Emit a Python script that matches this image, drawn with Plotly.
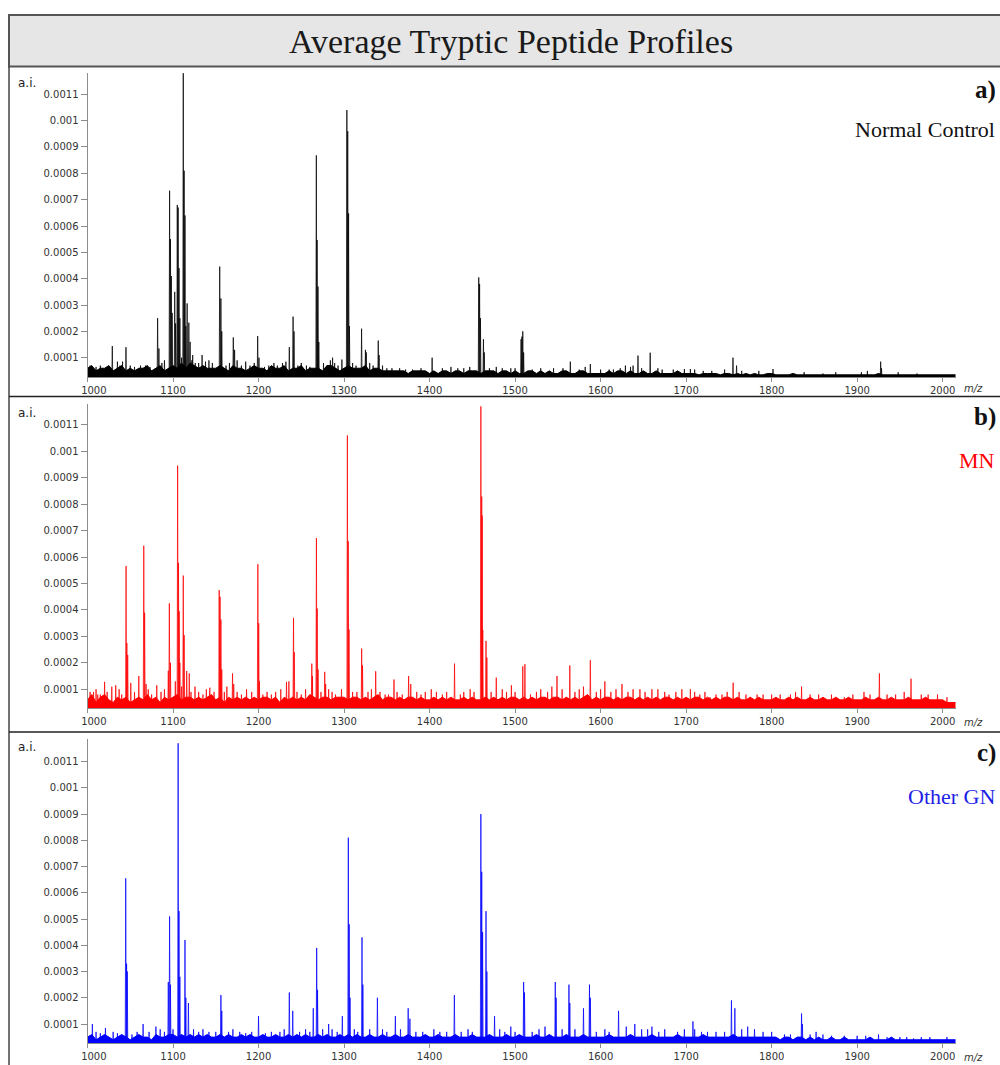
import plotly.graph_objects as go

# ---------------- data ----------------
mz_ticks = [1000, 1100, 1200, 1300, 1400, 1500, 1600, 1700, 1800, 1900, 2000]
mz_tick_text = ["\u00a0\u00a0\u00a0\u00a01000", "1100", "1200", "1300", "1400", "1500",
                "1600", "1700", "1800", "1900", "2000"]
ai_ticks = [0.0001, 0.0002, 0.0003, 0.0004, 0.0005, 0.0006, 0.0007, 0.0008, 0.0009, 0.001, 0.0011]
ai_tick_text = ["0.0001", "0.0002", "0.0003", "0.0004", "0.0005", "0.0006",
                "0.0007", "0.0008", "0.0009", "0.001", "0.0011"]

panel_tags = ["a)", "b)", "c)"]
group_names = ["Normal Control", "MN", "Other GN"]

# baseline noise envelope, sampled every 5 m/z (units of 1e-5 a.i.)
noise_mz = list(range(1000, 2016, 5))
nc_noise = [6,7,5,6,6,7,5,6,7,5,6,5,6,6,7,5,6,7,5,6,
            7,6,8,6,8,7,6,7,6,6,6,7,6,5,7,6,6,5,6,7,
            6,6,5,7,6,6,7,5,6,6,7,5,6,6,6,5,7,7,6,5,
            6,7,6,6,6,7,5,6,6,5,5,5,5,5,5,4,5,5,5,5,
            4,5,4,5,5,4,5,5,4,5,5,5,4,5,5,5,4,5,5,4,
            5,4,4,5,5,4,5,4,5,4,4,5,5,4,4,5,5,4,4,4,
            4,4,5,4,5,5,4,5,4,4,5,4,4,5,4,4,4,4,5,4,
            4,4,4,3.5,4,4,4,4,3.5,4,4,3.5,4,3.5,4,3.5,4,3.5,3.5,4,
            4,3.5,3.5,3.5,3.5,4,3.5,3.5,3.5,3.5,3.5,3.5,3.5,3.5,3.5,3.5,3.5,3.5,3.5,3.5,
            3.5,3.5,3.5,3.5,3.5,4,3.5,3.5,3.5,3.5,3.5,3.5,3.5,3.5,3.5,3.5,3.5,3.5,3.5,3.5,
            3.5,3.5,3.5,3.5]
mn_noise = [6,8,5,7,8,6,5,7,6,7,5,6,7,6,8,6,7,5,7,6,
            7,8,6,7,7,6,7,6,7,8,6,7,5,7,6,7,6,7,6,7,
            6,7,7,6,7,5,7,6,7,6,7,6,8,7,6,7,7,6,7,7,
            7,6,7,7,6,7,6,7,8,6,7,7,6,7,6,7,7,6,7,6,
            6,7,6,7,6,7,6,6,7,6,7,6,6,7,6,7,6,7,6,7,
            7,6,7,6,7,6,7,7,6,7,7,6,7,6,7,6,7,8,6,7,
            6,7,7,6,7,6,7,7,6,7,6,7,6,7,6,7,7,6,7,6,
            7,6,7,7,6,7,6,7,6,7,7,6,7,6,6,7,6,7,6,6,
            6,7,6,6,7,6,7,6,6,7,6,6,7,6,6,7,6,6,7,6,
            6,6,7,6,6,7,6,6,7,6,6,6,7,6,6,6,7,6,6,6,
            6,5,5,5]
gn_noise = [5,6,4,5,6,5,4,5,6,5,4,5,6,5,5,4,6,5,5,6,
            6,5,6,5,6,5,6,5,6,5,5,6,5,6,5,5,6,5,6,5,
            5,6,5,5,6,5,5,6,5,6,5,6,5,5,6,5,6,5,5,6,
            5,6,5,6,5,5,6,5,5,6,5,5,6,5,5,6,5,5,5,6,
            5,5,6,5,5,5,6,5,5,5,6,5,5,5,6,5,5,5,6,5,
            5,6,5,5,5,6,5,5,6,5,5,5,6,5,5,5,6,5,5,5,
            5,5,6,5,5,5,5,6,5,5,5,5,6,5,5,5,5,5,6,5,
            5,5,5,5,6,5,5,5,5,5,5,6,5,5,5,5,5,5,5,5,
            5,5,4,5,5,4,5,5,4,5,4,5,4,4,5,4,4,5,4,4,
            4,4,4,5,4,4,4,4,5,4,4,4,4,4,4,4,4,4,4,4,
            4,4,4,4]

# main peaks: m/z and intensity (units of 1e-5 a.i.)
nc_peak_mz = [1029, 1041, 1045, 1082, 1083.5, 1096, 1097, 1098, 1099, 1102, 1103,
              1105, 1106, 1107, 1108, 1112, 1113, 1114, 1115, 1116.5, 1118.5, 1120, 1123,
              1134, 1154.6, 1156, 1157, 1170.5, 1172, 1185, 1199, 1200.5, 1236, 1240.4,
              1241.5, 1267.6, 1268.5, 1269.5, 1270.5, 1286.6, 1297.5, 1303.3, 1304.3,
              1305.3, 1306.3, 1320.5, 1325, 1326, 1340, 1341, 1403, 1457.5, 1458.5,
              1459.5, 1463, 1464, 1507, 1508, 1509, 1510, 1564.6, 1588, 1623, 1629,
              1643.7, 1658, 1667, 1698, 1705, 1754.8, 1759, 1801.6, 1927.5, 1928.5]
nc_peak_int = [14.4, 8.5, 14, 25, 13.5, 73.4, 55, 41, 27, 35, 23,
               68, 67, 44, 25, 118, 81, 64, 22, 30.6, 23.3, 16, 11,
               11, 44.6, 32.5, 20, 17.7, 13, 8.5, 18.2, 10, 14, 25.6,
               20, 86.8, 54.7, 37, 16, 10, 9.3, 104, 96,
               64.8, 22, 21, 13, 12, 16.5, 11, 10, 40.5, 38,
               25, 17, 12, 17, 18, 20, 12, 8.5, 7.6, 6, 7,
               10.8, 11.9, 6, 5.7, 5.7, 10, 7, 5.7, 8.5, 6]

mn_peak_mz = [1007, 1012, 1020, 1028.4, 1033, 1045.1, 1046, 1047, 1050.6, 1060, 1065.8,
              1066.8, 1068.5, 1081, 1094.5, 1095.7, 1097, 1102.7, 1105.4, 1106.4, 1107.2,
              1108, 1112, 1113, 1116, 1119, 1125.7, 1143, 1154, 1155, 1156, 1157,
              1169.6, 1171, 1199.2, 1200.2, 1201, 1232.7, 1235.5, 1240.9, 1241.8, 1262.3,
              1263, 1267.7, 1268.6, 1269.6, 1277.4, 1278.5, 1297, 1303.9, 1304.9, 1305.8,
              1320.6, 1321.6, 1337, 1358.4, 1375.5, 1378, 1402, 1429.2, 1447.5, 1460,
              1461, 1461.5, 1462.2, 1466, 1467, 1478, 1495.7, 1509, 1511.5, 1549, 1564,
              1580, 1588, 1605, 1625, 1646, 1667, 1705, 1728, 1755, 1783, 1835, 1908,
              1926, 1963, 1994]
mn_peak_int = [9, 8, 12.8, 11, 11.5, 56.6, 27.5, 23, 12.4, 15, 64.3,
               39, 12, 11.5, 17, 42.5, 20, 13, 94.6, 57.8, 39.5,
               20, 53, 30.5, 16.9, 16, 11, 10.6, 47.5, 45, 36.4, 17.5,
               16, 12, 57.3, 35, 13, 12.8, 13, 37, 24, 19.7,
               15, 67.2, 40.5, 17.5, 16.6, 12, 10, 106, 66, 32.6,
               25.4, 19, 16.8, 13.7, 15, 12, 10, 19.7, 10, 117,
               82.9, 75.7, 32.4, 28.3, 22, 14.4, 11.5, 18.7, 19.5, 15, 19,
               11, 21, 13, 12, 10, 10, 10, 7, 12.5, 8, 11, 9,
               16, 14, 8]

gn_peak_mz = [1005.7, 1021, 1044.7, 1045.7, 1046.5, 1065, 1080, 1094.5, 1096, 1097,
              1106, 1107, 1108, 1114, 1115, 1118, 1156, 1157, 1200, 1236, 1240, 1264,
              1268, 1269, 1282, 1298, 1305, 1306, 1307, 1321, 1322, 1339, 1360, 1375,
              1377, 1429, 1460, 1461, 1462, 1466, 1467, 1476, 1510, 1511, 1547, 1548,
              1563, 1564, 1580, 1587, 1588, 1621, 1640, 1660, 1708, 1710, 1753, 1757,
              1835, 1836, 1852, 1925, 1950, 1966, 1994]
gn_peak_int = [10, 8.5, 65.5, 33, 30, 10, 9, 26, 51, 25,
               117, 53, 28, 42, 20, 18, 21, 15, 13, 22, 15, 16,
               39, 23, 10, 13, 81, 48, 20, 43, 25, 20, 13, 16,
               12, 21, 90, 68, 45, 53, 30, 13, 26, 22, 26, 20,
               25, 18, 16, 25, 20, 15, 10, 9, 11, 8, 19, 16,
               14, 10, 7, 6, 5, 4.5, 4]

# minor noise spikes: m/z and intensity (units of 1e-5 a.i.)
nc_minor_mz = [1003, 1010, 1015, 1022, 1035, 1038, 1050, 1055, 1062, 1068, 1073, 1087,
               1090, 1110, 1122, 1126, 1130, 1138, 1142, 1146, 1162, 1166, 1175, 1180,
               1190, 1195, 1207, 1212, 1218, 1222, 1228, 1232, 1246, 1250, 1256, 1260,
               1276, 1280, 1284, 1289, 1293, 1310, 1314, 1330, 1334, 1345, 1350, 1356,
               1365, 1372, 1380, 1390, 1415, 1425, 1433, 1440, 1447, 1470, 1478, 1485,
               1495, 1500, 1520, 1530, 1545, 1556, 1575, 1582, 1600, 1610, 1615, 1635,
               1638, 1648, 1672, 1685, 1710, 1720, 1730, 1745, 1765, 1785, 1838, 1860,
               1875, 1905, 1912, 1948, 1970]
nc_minor_int = [7, 6.5, 7, 6, 8.5, 7, 7, 6.5, 7, 7, 6.5, 8,
                9, 10, 9, 8, 8, 8.5, 9, 8, 7, 8, 9, 7,
                7, 8, 6.5, 7, 8, 7, 8, 8.5, 7, 8, 7, 6.5,
                8, 7, 9, 8, 7, 8, 7, 8, 7, 7, 6, 6,
                6, 5.5, 5.5, 6, 6, 6.5, 6, 6, 6.5, 6, 6.5, 6,
                6, 6, 5.5, 6, 6, 6, 5.5, 6.5, 5.5, 5.5, 5.5, 6.5,
                7, 6, 5.5, 5.5, 5.5, 5, 5, 5.5, 5, 5, 4.5, 4,
                4.5, 4.5, 5, 4.5, 4]

mn_minor_mz = [1003, 1010, 1015, 1023, 1037, 1040, 1055, 1071, 1075, 1086, 1090, 1110,
               1121, 1130, 1135, 1139, 1148, 1160, 1163, 1175, 1180, 1186, 1192, 1205,
               1210, 1215, 1220, 1226, 1245, 1250, 1255, 1273, 1282, 1286, 1290, 1310,
               1315, 1328, 1332, 1342, 1348, 1352, 1362, 1368, 1385, 1390, 1395, 1408,
               1415, 1420, 1436, 1440, 1452, 1472, 1485, 1490, 1500, 1518, 1525, 1530,
               1538, 1543, 1555, 1570, 1575, 1595, 1600, 1612, 1618, 1632, 1638, 1652,
               1660, 1675, 1680, 1688, 1695, 1710, 1716, 1722, 1735, 1742, 1748, 1762,
               1770, 1790, 1800, 1810, 1822, 1828, 1845, 1855, 1870, 1885, 1895, 1915,
               1935, 1945, 1955, 1975, 1983, 2005]
mn_minor_int = [9, 10, 8, 9, 10, 8, 9, 10, 8, 9, 10, 11,
                9, 9, 8, 10, 9, 9, 11, 9, 8, 10, 9, 8,
                9, 8, 9, 10, 9, 8, 10, 9, 10, 9, 8, 9,
                9, 9, 10, 9, 8, 8, 9, 8, 9, 8, 9, 9,
                8, 9, 8, 9, 9, 9, 10, 9, 9, 8, 9, 10,
                9, 11, 10, 9, 10, 9, 10, 9, 10, 9, 10, 9,
                10, 9, 8, 9, 10, 9, 8, 9, 8, 8, 9, 9,
                8, 8, 8, 8, 8, 9, 8, 8, 8, 7, 8, 8,
                8, 8, 9, 8, 8, 7]

gn_minor_mz = [1010, 1015, 1030, 1035, 1052, 1058, 1072, 1085, 1090, 1100, 1124, 1130,
               1135, 1142, 1150, 1165, 1170, 1178, 1185, 1192, 1208, 1215, 1225, 1230,
               1248, 1255, 1260, 1275, 1286, 1292, 1312, 1316, 1330, 1345, 1350, 1366,
               1384, 1392, 1405, 1412, 1420, 1437, 1445, 1450, 1482, 1488, 1495, 1500,
               1520, 1528, 1535, 1555, 1570, 1595, 1605, 1610, 1630, 1648, 1655, 1668,
               1675, 1690, 1698, 1718, 1725, 1735, 1745, 1765, 1772, 1780, 1790, 1800,
               1815, 1822, 1845, 1860, 1870, 1885, 1900, 1910, 1935, 1958, 1975, 1985,
               2005]
gn_minor_int = [7, 6.5, 7, 6.5, 6, 7, 7, 8, 7, 8, 8, 7,
                8, 7, 7, 7, 8, 7, 6.5, 7, 6.5, 7, 7, 8,
                7, 8, 7, 8, 8, 7, 8, 7, 8, 8, 7, 8,
                7, 7, 8, 7, 7, 7, 8, 7, 8, 7, 9, 7,
                7, 8, 9, 8, 8, 7, 8, 7, 9, 8, 8, 7,
                8, 7, 8, 7, 7, 7, 7, 8, 9, 8, 7, 7,
                6, 6, 6, 6, 5.5, 5.5, 5.5, 5.5, 5, 5, 5, 5,
                5]

UNIT = 1e-5

# ---------------- styling / layout helpers ----------------
W, H = 1000, 1065


def px(x):
    return x / W


def py(y):
    return 1 - y / H


panels = [
    dict(noise=nc_noise, pmz=nc_peak_mz + nc_minor_mz, pint=nc_peak_int + nc_minor_int,
         color="#000000", label_color="#111111", ydom=(377.3, 72.7),
         yrng=(0.0000256, 0.001182), ai_y=82.7, tag_y=90, name_y=129.3, mz_y=388),
    dict(noise=mn_noise, pmz=mn_peak_mz + mn_minor_mz, pint=mn_peak_int + mn_minor_int,
         color="#ff0000", label_color="#ff0000", ydom=(708, 404),
         yrng=(0.0000292, 0.001179), ai_y=412.7, tag_y=416.7, name_y=460, mz_y=722),
    dict(noise=gn_noise, pmz=gn_peak_mz + gn_minor_mz, pint=gn_peak_int + gn_minor_int,
         color="#0000ff", label_color="#1f1fe6", ydom=(1043, 739.3),
         yrng=(0.0000276, 0.001185), ai_y=746.7, tag_y=753.3, name_y=796.7, mz_y=1057),
]

fig = go.Figure()
annotations = []
layout_axes = {}

for i, p in enumerate(panels):
    k = "" if i == 0 else str(i + 1)
    xa, ya = "x" + k, "y" + k
    base = p["yrng"][0] - 0.00001

    # noise band
    fig.add_trace(go.Scatter(
        x=noise_mz, y=[v * UNIT for v in p["noise"]],
        mode="lines", line=dict(color=p["color"], width=1),
        fill="tozeroy", fillcolor=p["color"],
        xaxis=xa, yaxis=ya, hoverinfo="skip"))

    # peaks as sticks
    sx, sy = [], []
    for m, h in zip(p["pmz"], p["pint"]):
        sx += [m - 0.6, m, m + 0.6, None]
        sy += [base, h * UNIT, base, None]
    fig.add_trace(go.Scatter(
        x=sx, y=sy, mode="lines", line=dict(color=p["color"], width=0.75),
        xaxis=xa, yaxis=ya, hoverinfo="skip"))

    tickfont = dict(family="DejaVu Sans", size=10, color="#333333")
    layout_axes["xaxis" + k] = dict(
        domain=[px(87.5), px(956)], range=[1000, 2015.6], anchor=ya,
        tickvals=mz_ticks, ticktext=mz_tick_text, ticks="outside", ticklen=4,
        tickcolor="#8c8c8c", showline=True, linecolor="#8c8c8c", linewidth=1,
        showgrid=False, zeroline=False, tickfont=tickfont, automargin=False)
    layout_axes["yaxis" + k] = dict(
        domain=[py(p["ydom"][0]), py(p["ydom"][1])], range=list(p["yrng"]),
        anchor=xa, tickvals=ai_ticks, ticktext=ai_tick_text, ticks="outside",
        ticklen=6, tickcolor="#8c8c8c", showline=True, linecolor="#8c8c8c",
        linewidth=1, showgrid=False, zeroline=False, tickfont=tickfont,
        automargin=False)

    annotations += [
        dict(x=px(16), y=py(p["ai_y"]), xref="paper", yref="paper", text="a.i.",
             showarrow=False, xanchor="left", yanchor="middle",
             font=dict(family="DejaVu Sans", size=12, color="#222222")),
        dict(x=px(998), y=py(p["tag_y"]), xref="paper", yref="paper",
             text="<b>" + panel_tags[i] + "</b>", showarrow=False,
             xanchor="right", yanchor="middle",
             font=dict(family="Liberation Serif", size=25, color="#111111")),
        dict(x=px(997), y=py(p["name_y"]), xref="paper", yref="paper",
             text=group_names[i], showarrow=False, xanchor="right", yanchor="middle",
             font=dict(family="Liberation Serif", size=22, color=p["label_color"])),
        dict(x=px(962), y=py(p["mz_y"]), xref="paper", yref="paper",
             text="<i>m/z</i>", showarrow=False, xanchor="left", yanchor="middle",
             font=dict(family="DejaVu Sans", size=10, color="#333333")),
    ]

annotations.append(dict(
    x=px(511), y=py(42), xref="paper", yref="paper",
    text="Average Tryptic Peptide Profiles", showarrow=False,
    xanchor="center", yanchor="middle",
    font=dict(family="Liberation Serif", size=34, color="#1a1a1a")))

shapes = [
    dict(type="rect", xref="paper", yref="paper", x0=px(9), x1=px(1012),
         y0=py(66.5), y1=py(15), fillcolor="#e6e6e6",
         line=dict(color="#555555", width=2), layer="below"),
    dict(type="line", xref="paper", yref="paper", x0=px(9), x1=px(9),
         y0=py(66.5), y1=py(1068), line=dict(color="#444444", width=1.5)),
    dict(type="line", xref="paper", yref="paper", x0=px(9), x1=px(1002),
         y0=py(396.5), y1=py(396.5), line=dict(color="#222222", width=1.5)),
    dict(type="line", xref="paper", yref="paper", x0=px(9), x1=px(1002),
         y0=py(732), y1=py(732), line=dict(color="#222222", width=1.5)),
]

fig.update_layout(
    width=W, height=H, margin=dict(l=0, r=0, t=0, b=0, autoexpand=False),
    paper_bgcolor="white", plot_bgcolor="white", showlegend=False,
    annotations=annotations, shapes=shapes, **layout_axes)

fig.write_html("out.html")
